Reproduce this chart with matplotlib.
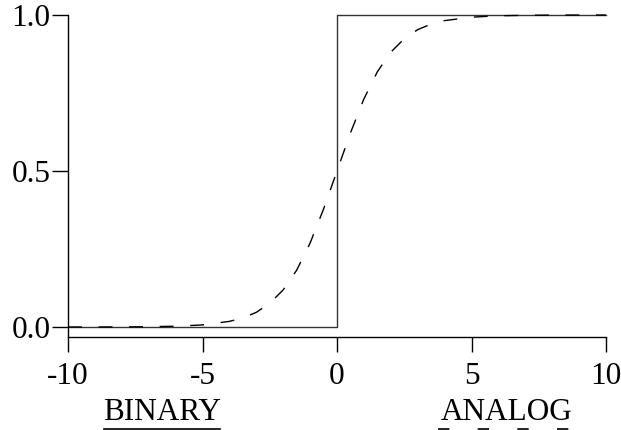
import matplotlib
matplotlib.use("Agg")
import matplotlib.pyplot as plt
from matplotlib.lines import Line2D

# Data
step_x = [-10, 0, 0, 10]
step_y = [0.0, 0.0, 1.0, 1.0]

sig_x = [-10, -9, -8, -7, -6, -5, -4, -3.5, -3, -2.5, -2, -1.5, -1, -0.5,
         0, 0.5, 1, 1.5, 2, 2.5, 3, 3.5, 4, 5, 6, 7, 8, 9, 10]
sig_y = [0.0, 0.0001, 0.0003, 0.0009, 0.0025, 0.0067, 0.018, 0.029, 0.047,
         0.076, 0.119, 0.182, 0.269, 0.378, 0.5, 0.622, 0.731, 0.818, 0.881,
         0.924, 0.953, 0.971, 0.982, 0.993, 0.9975, 0.999, 0.9997, 0.9999, 1.0]

xticks = [-10, -5, 0, 5, 10]
xticklabels = ["-10", "-5", "0", "5", "10"]
yticks = [0.0, 0.5, 1.0]
yticklabels = ["0.0", "0.5", "1.0"]
labels = ["BINARY", "ANALOG"]

plt.rcParams['font.family'] = ['Liberation Serif', 'DejaVu Serif']
FS = 22.5

fig = plt.figure(figsize=(6.21, 4.30), dpi=100)
ax = fig.add_axes([68/621, 93/430, 538/621, 322/430])

ax.plot(step_x, step_y, color='#333333', lw=1.0, clip_on=False)
ax.plot(sig_x, sig_y, color='black', lw=1.0, dashes=(10, 12), clip_on=False)

ax.set_xlim(-10, 10)
ax.set_ylim(-10/312, 1.0)

for s in ['top', 'right']:
    ax.spines[s].set_visible(False)
for s in ['left', 'bottom']:
    ax.spines[s].set_linewidth(1.0)
    ax.spines[s].set_color('black')

ax.set_xticks(xticks)
ax.set_xticklabels(xticklabels)
ax.set_yticks(yticks)
ax.set_yticklabels(yticklabels)
ax.tick_params(axis='x', direction='out', length=10.8, width=1.0, labelsize=FS, pad=7)
ax.tick_params(axis='y', direction='out', length=11.5, width=1.0, labelsize=FS, pad=1)

# Labels with underlines
fig.text(162/621, 1 - 420/430, labels[0], ha='center', va='baseline', fontsize=FS)
fig.text(507/621, 1 - 420/430, labels[1], ha='center', va='baseline', fontsize=FS)

uy = 1 - 428.5/430
fig.add_artist(Line2D([104/621, 220/621], [uy, uy], transform=fig.transFigure,
                      color='black', lw=1.2))
fig.add_artist(Line2D([438/621, 570/621], [uy, uy], transform=fig.transFigure,
                      color='black', lw=1.2, dashes=(6.8, 17.0)))

fig.savefig("out.png", dpi=100)
